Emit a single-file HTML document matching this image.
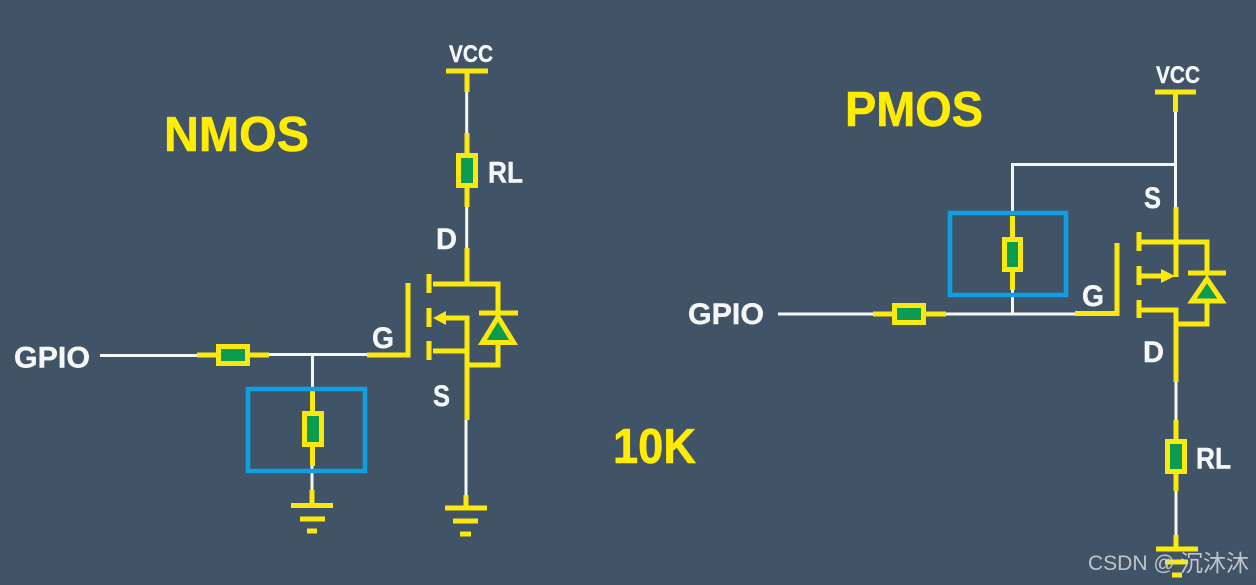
<!DOCTYPE html>
<html><head><meta charset="utf-8"><style>
html,body{margin:0;padding:0;background:#415467;width:1256px;height:585px;overflow:hidden}
svg{display:block}
text{font-family:"Liberation Sans","Noto Sans CJK SC",sans-serif;font-weight:bold}
.w{fill:#f4f6f8;stroke:#f4f6f8;stroke-width:.4}.t{fill:#ffec00;stroke:#ffec00;stroke-width:.6}
.wl{stroke:#f5f7f8;stroke-width:3;fill:none}
.yl{stroke:#fbe90e;stroke-width:5;fill:none}
.b{stroke:#0ea0e2;stroke-width:4.5;fill:none}
.res{fill:#0b9c4f;stroke:#fbe90e;stroke-width:5}
.tri{fill:#0b9c4f;stroke:#fbe90e;stroke-width:5;stroke-linejoin:miter}
</style></head><body>
<svg width="1256" height="585" viewBox="0 0 1256 585" xmlns="http://www.w3.org/2000/svg">
<rect width="1256" height="585" fill="#415467"/>

<!-- NMOS white wires -->
<path class="wl" d="M100 355.500H197M269 354.500H367M312.500 355V392M312 465V491M466.700 92V135M466.700 207V250M466 418V496"/>
<!-- NMOS yellow -->
<path class="yl" d="M446 71H488M467 71V92M467 133V207M197 355H269M367 355H408V283M312.500 390V466M291 505.500H333M300 519H325M307 531H317M312 490V505"/>
<path class="yl" d="M467 248V284M433 284H498V313M479 313H518M429 274V293M429 308V327M429 341V360M445 318H467V420M433 351H467M498 343V365H467M445 508H487M453 521H478M460 534H471M466 495V508" />
<path d="M433 318L446 311V325Z" fill="#fbe90e"/>
<path class="tri" d="M498 317L513.600 342.500H482.400Z"/>
<rect class="b" x="248" y="389" width="117" height="82"/>
<rect class="res" x="218.500" y="346.500" width="29" height="17"/>
<rect class="res" x="304.500" y="413.500" width="17" height="31"/>
<rect class="res" x="458.500" y="155.500" width="17" height="30"/>

<!-- PMOS white wires -->
<path class="wl" d="M778 314H875M945 314H1076M1012.500 314V290M1012.500 215V164.500H1176M1175.500 112V208M1176 380V421M1176 491V536"/>
<!-- PMOS yellow -->
<path class="yl" d="M1155 92H1196M1175.500 92V112M873 314H946M1012.500 216V290M1075 313.500H1117V243"/>
<path class="yl" d="M1176 207V277M1141 242H1207V273M1188 273H1226M1139 232V251M1139 266V285M1139 300V318M1141 276H1163M1141 310H1176V382M1207 302V324H1176M1176 420V491M1176 535V549M1156 549H1198M1165 562H1188M1172 575H1182"/>
<path d="M1175 276L1161 269V283Z" fill="#fbe90e"/>
<path class="tri" d="M1207 279L1222 301H1192Z"/>
<rect class="b" x="950" y="213" width="116" height="82"/>
<rect class="res" x="894.500" y="305.500" width="29" height="17"/>
<rect class="res" x="1004.500" y="239.500" width="16" height="30"/>
<rect class="res" x="1167.500" y="441.500" width="17" height="30"/>

<!-- Titles -->
<text class="t" x="164" y="151" font-size="49" textLength="145" lengthAdjust="spacingAndGlyphs">NMOS</text>
<text class="t" x="845" y="126" font-size="49" textLength="138" lengthAdjust="spacingAndGlyphs">PMOS</text>
<text class="t" x="613" y="463" font-size="49" textLength="83" lengthAdjust="spacingAndGlyphs">10K</text>

<!-- White labels -->
<text class="w" x="14" y="367.500" font-size="30" textLength="76" lengthAdjust="spacingAndGlyphs">GPIO</text>
<text class="w" x="372" y="348" font-size="30" textLength="22" lengthAdjust="spacingAndGlyphs">G</text>
<text class="w" x="488" y="182.500" font-size="30" textLength="35" lengthAdjust="spacingAndGlyphs">RL</text>
<text class="w" x="436" y="249" font-size="30" textLength="21" lengthAdjust="spacingAndGlyphs">D</text>
<text class="w" x="433" y="406" font-size="30" textLength="17" lengthAdjust="spacingAndGlyphs">S</text>
<text class="w" x="449" y="62" font-size="24" textLength="44" lengthAdjust="spacingAndGlyphs">VCC</text>

<text class="w" x="688" y="324" font-size="30" textLength="76" lengthAdjust="spacingAndGlyphs">GPIO</text>
<text class="w" x="1082" y="306" font-size="30" textLength="22" lengthAdjust="spacingAndGlyphs">G</text>
<text class="w" x="1144" y="208" font-size="30" textLength="17" lengthAdjust="spacingAndGlyphs">S</text>
<text class="w" x="1143" y="362" font-size="30" textLength="21" lengthAdjust="spacingAndGlyphs">D</text>
<text class="w" x="1196" y="468.500" font-size="30" textLength="35" lengthAdjust="spacingAndGlyphs">RL</text>
<text class="w" x="1156" y="83" font-size="24" textLength="44" lengthAdjust="spacingAndGlyphs">VCC</text>

<!-- Watermark -->
<text x="1088" y="570" font-size="21" style="font-weight:normal" fill="#cfd2d5" fill-opacity="0.9">CSDN @</text>
<text x="1180" y="571" font-size="23" style="font-weight:normal" fill="#cfd2d5" fill-opacity="0.9">沉沐沐</text>
</svg>
</body></html>
